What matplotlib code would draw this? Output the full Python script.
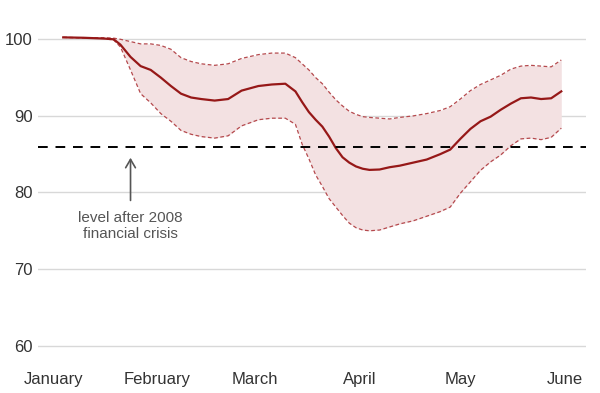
import pandas as pd
import matplotlib
matplotlib.use("Agg")
import matplotlib.pyplot as plt

# values (index, start of January = 100)
dates = ["2020-01-04", "2020-01-10", "2020-01-16", "2020-01-19", "2020-01-21",
         "2020-01-24", "2020-01-27", "2020-01-30", "2020-02-02", "2020-02-05",
         "2020-02-08", "2020-02-11", "2020-02-14", "2020-02-18", "2020-02-22",
         "2020-02-26", "2020-03-02", "2020-03-06", "2020-03-10", "2020-03-13",
         "2020-03-15", "2020-03-17", "2020-03-19", "2020-03-21", "2020-03-23",
         "2020-03-25", "2020-03-27", "2020-03-29", "2020-03-31", "2020-04-02",
         "2020-04-04", "2020-04-07", "2020-04-10", "2020-04-13", "2020-04-17",
         "2020-04-21", "2020-04-25", "2020-04-28", "2020-05-01", "2020-05-04",
         "2020-05-07", "2020-05-10", "2020-05-13", "2020-05-16", "2020-05-19",
         "2020-05-22", "2020-05-25", "2020-05-28", "2020-05-31"]

central = [100.25, 100.2, 100.1, 100.0, 99.3,
           97.7, 96.5, 96.0, 95.0, 93.9,
           92.9, 92.4, 92.2, 92.0, 92.2,
           93.3, 93.9, 94.1, 94.2, 93.2,
           91.8, 90.5, 89.5, 88.6, 87.3,
           85.8, 84.6, 83.9, 83.4, 83.1,
           82.95, 83.0, 83.3, 83.5, 83.9,
           84.3, 85.0, 85.6, 87.0, 88.3,
           89.3, 89.9, 90.8, 91.6, 92.3,
           92.4, 92.2, 92.3, 93.2]

upper = [100.25, 100.2, 100.2, 100.15, 100.0,
         99.7, 99.4, 99.4, 99.2, 98.7,
         97.6, 97.1, 96.8, 96.6, 96.8,
         97.5, 98.0, 98.2, 98.2, 97.6,
         96.8, 96.0, 95.0, 94.2, 93.1,
         92.1, 91.3, 90.6, 90.2, 89.9,
         89.8, 89.7, 89.6, 89.8, 90.0,
         90.3, 90.7, 91.2, 92.2, 93.3,
         94.1, 94.7, 95.3, 96.1, 96.5,
         96.6, 96.5, 96.4, 97.3]

lower = [100.25, 100.2, 100.1, 99.9, 99.0,
         96.0, 92.9, 91.7, 90.3, 89.3,
         88.1, 87.6, 87.3, 87.1, 87.4,
         88.7, 89.5, 89.7, 89.7, 88.9,
         86.3, 84.4, 82.3, 80.8, 79.2,
         78.1, 77.0, 76.0, 75.4, 75.1,
         75.0, 75.1, 75.5, 75.9, 76.3,
         76.9, 77.5, 78.1, 79.9, 81.4,
         82.9, 84.0, 84.9, 86.1, 87.0,
         87.1, 86.9, 87.2, 88.4]

crisis_level = 86
months = ["January", "February", "March", "April", "May", "June"]
month_starts = ["2020-01-01", "2020-02-01", "2020-03-01", "2020-04-01", "2020-05-01", "2020-06-01"]
yticks = [60, 70, 80, 90, 100]

x = pd.to_datetime(dates)
mx = pd.to_datetime(month_starts)

plt.rcParams["font.family"] = ["Liberation Sans", "DejaVu Sans"]

fig = plt.figure(figsize=(6, 3.93), dpi=100)
ax = fig.add_axes([0.0633, 0.0814, 0.9133, 0.8576])

# band + dashed edges, then the central line
ax.fill_between(x, lower, upper, color="#f3e1e2", lw=0, zorder=1)
ax.plot(x, upper, color="#b5494d", lw=0.9, ls=(0, (3, 2)), zorder=2)
ax.plot(x, lower, color="#b5494d", lw=0.9, ls=(0, (3, 2)), zorder=2)
ax.plot(x, central, color="#961818", lw=1.6, zorder=3)

ax.axhline(crisis_level, color="black", lw=1.4, ls=(0, (5, 4)), zorder=4)

arrow_x = pd.Timestamp("2020-01-24")
ax.annotate("", xy=(arrow_x, 84.9), xytext=(arrow_x, 78.6),
            arrowprops=dict(arrowstyle="->,head_length=0.6,head_width=0.35",
                            color="#555555", lw=1.2))
ax.text(arrow_x, 77.6, "level after 2008\nfinancial crisis", ha="center", va="top",
        fontsize=11, color="#555555", linespacing=1.2)

ax.set_ylim(58, 102)
ax.set_xlim(pd.Timestamp("2019-12-27 12:00"), pd.Timestamp("2020-06-07 08:00"))
ax.set_yticks(yticks)
ax.set_xticks(mx)
ax.set_xticklabels(months)
ax.yaxis.grid(True, color="#d8d8d8", lw=1)
ax.set_axisbelow(True)
for s in ax.spines.values():
    s.set_visible(False)
ax.tick_params(axis="both", length=0, labelsize=12, colors="#333333")
ax.tick_params(axis="y", pad=4)
ax.tick_params(axis="x", pad=8)

fig.savefig("out.png", dpi=100)
